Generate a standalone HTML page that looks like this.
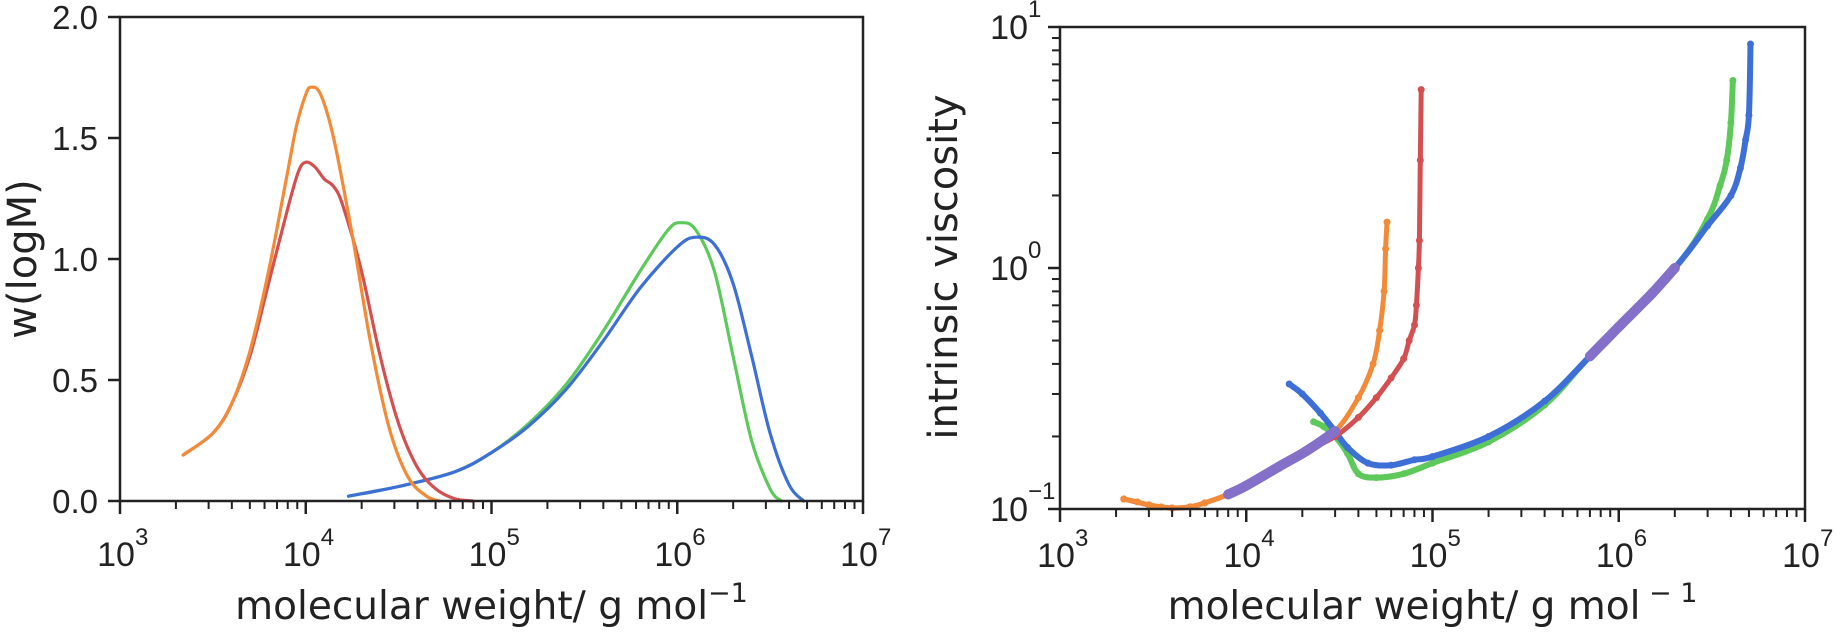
<!DOCTYPE html>
<html><head><meta charset="utf-8"><style>
html,body{margin:0;padding:0;background:#fff;}
svg{display:block;font-family:"DejaVu Sans","Liberation Sans",Arial,sans-serif;}
.tk{font-family:"Liberation Sans",Arial,sans-serif;}
</style></head><body>
<svg id="fig" width="1836" height="632" viewBox="0 0 1836 632" xmlns="http://www.w3.org/2000/svg">
<g id="left"></g>
<g id="right"></g>
</svg>
<script>
// ---- Left chart data (log10 M, w(logM)) ----
const orangeLogM = [3.34,3.5,3.6,3.7,3.8,3.9,3.95,4.0,4.03,4.08,4.15,4.25,4.35,4.45,4.55,4.65,4.72];
const orangeW    = [0.19,0.28,0.40,0.62,0.95,1.35,1.55,1.68,1.71,1.68,1.50,1.10,0.65,0.30,0.10,0.02,0.0];
const redLogM = [3.34,3.5,3.6,3.7,3.8,3.9,3.96,4.0,4.05,4.1,4.15,4.2,4.3,4.4,4.5,4.6,4.7,4.8,4.9];
const redW    = [0.19,0.28,0.40,0.60,0.90,1.20,1.36,1.40,1.38,1.33,1.30,1.22,0.95,0.60,0.32,0.14,0.05,0.01,0.0];
const greenLogM = [4.23,4.5,4.8,5.0,5.2,5.4,5.6,5.8,5.95,6.02,6.1,6.2,6.3,6.4,6.5,6.56];
const greenW    = [0.02,0.06,0.12,0.20,0.32,0.48,0.70,0.95,1.12,1.15,1.12,0.95,0.60,0.25,0.05,0.0];
const blueLogM = [4.23,4.5,4.8,5.0,5.2,5.4,5.6,5.8,6.0,6.1,6.2,6.3,6.4,6.5,6.6,6.68];
const blueW    = [0.02,0.06,0.12,0.20,0.31,0.46,0.66,0.88,1.05,1.09,1.06,0.90,0.60,0.28,0.07,0.0];
const leftYTicks = [0.0,0.5,1.0,1.5,2.0];
const leftYTickLabels = ["0.0","0.5","1.0","1.5","2.0"];
const xDecades = [3,4,5,6,7];

// ---- Right chart data (M, intrinsic viscosity) ----
const rOrangeM = [2200,2600,3000,3500,4000,5000,6000,8000,10000,15000,20000,30000,40000,48000,52000,55000,56000,57000];
const rOrangeV = [0.11,0.107,0.104,0.102,0.101,0.102,0.106,0.115,0.125,0.15,0.17,0.21,0.29,0.4,0.55,0.8,1.2,1.55];
const rRedM = [2200,3000,4000,5000,6000,8000,10000,20000,30000,40000,50000,60000,70000,75000,80000,82000,84000,85000,86000,87000];
const rRedV = [0.11,0.104,0.101,0.102,0.106,0.115,0.125,0.17,0.2,0.24,0.29,0.35,0.42,0.5,0.58,0.7,1.0,1.3,2.8,5.5];
const rPurpleM1 = [8000,10000,15000,20000,25000,30000];
const rPurpleV1 = [0.115,0.125,0.15,0.17,0.19,0.21];
const rPurpleM2 = [700000,1000000,1500000,2000000];
const rPurpleV2 = [0.43,0.57,0.78,1.0];
const rBlueM = [17000,20000,25000,30000,35000,45000,60000,80000,100000,200000,400000,700000,1000000,2000000,3000000,4000000,4500000,4800000,5000000,5100000];
const rBlueV = [0.33,0.3,0.25,0.21,0.18,0.155,0.152,0.16,0.165,0.2,0.28,0.43,0.57,1.0,1.5,2.0,2.6,3.4,4.3,8.5];
const rGreenM = [23000,26000,30000,35000,40000,50000,70000,100000,200000,400000,700000,2000000,3000000,3500000,3800000,4000000,4100000];
const rGreenV = [0.23,0.22,0.2,0.17,0.14,0.135,0.14,0.155,0.19,0.27,0.43,1.0,1.6,2.2,2.8,4.0,6.0];
const rightYDecades = [-1,0,1];

const NS = "http://www.w3.org/2000/svg";
function mk(tag, attrs, parent){ const e=document.createElementNS(NS,tag); for(const k in attrs) e.setAttribute(k,attrs[k]); parent.appendChild(e); return e; }
function smoothPath(P){
  let d = "M"+P[0][0].toFixed(1)+","+P[0][1].toFixed(1);
  for(let i=0;i<P.length-1;i++){
    const p0=P[Math.max(0,i-1)], p1=P[i], p2=P[i+1], p3=P[Math.min(P.length-1,i+2)];
    const c1=[p1[0]+(p2[0]-p0[0])/6, p1[1]+(p2[1]-p0[1])/6];
    const c2=[p2[0]-(p3[0]-p1[0])/6, p2[1]-(p3[1]-p1[1])/6];
    d += " C"+c1[0].toFixed(1)+","+c1[1].toFixed(1)+" "+c2[0].toFixed(1)+","+c2[1].toFixed(1)+" "+p2[0].toFixed(1)+","+p2[1].toFixed(1);
  }
  return d;
}

// ---- Left axes ----
const L = {x0:120,x1:863,y0:501,y1:17};
const lx = v => L.x0 + (v-3)/4*(L.x1-L.x0);
const ly = v => L.y0 - v/2*(L.y0-L.y1);
const lg = document.getElementById('left');
function lineSeries(g, xs, ys, fx, fy, color, name, w){
  const P = xs.map((x,i)=>[fx(x), fy(ys[i])]);
  const p = mk('path',{d:smoothPath(P),fill:'none',stroke:color,'stroke-width':w,'stroke-linejoin':'round','stroke-linecap':'round'},g);
  
  
  return p;
}
lineSeries(lg, greenLogM, greenW, lx, ly, '#5cc95a', 'green-curve', 3.2);
lineSeries(lg, blueLogM, blueW, lx, ly, '#3d6fd6', 'blue-curve', 3.2);
lineSeries(lg, redLogM, redW, lx, ly, '#d45050', 'red-curve', 3.2);
lineSeries(lg, orangeLogM, orangeW, lx, ly, '#f28a38', 'orange-curve', 3.2);
const lframe = mk('rect',{x:L.x0,y:L.y1,width:L.x1-L.x0,height:L.y0-L.y1,fill:'none',stroke:'#222','stroke-width':2.5},lg);


function xAxis(g, fx, y0, baseY, prefix){
  xDecades.forEach((d,i)=>{
    mk('line',{x1:fx(d),x2:fx(d),y1:y0,y2:y0+13,stroke:'#222','stroke-width':2.5},g);
    const t = mk('text',{x:fx(d)-4,y:baseY,'font-size':34,'text-anchor':'middle',fill:'#222',class:'tk'},g);
    t.textContent='10';
    
    
    const s = mk('text',{x:fx(d)+15,y:baseY-21,'font-size':24,fill:'#222',class:'tk'},g);
    s.textContent=String(d);
    if(i<xDecades.length-1){
      for(let m=2;m<=9;m++){ const xv=fx(d+Math.log10(m)); mk('line',{x1:xv,x2:xv,y1:y0,y2:y0+8,stroke:'#222','stroke-width':2},g); }
    }
  });
}
xAxis(lg, lx, L.y0, 566, 'left');
leftYTicks.forEach((v,i)=>{
  mk('line',{x1:L.x0-12,x2:L.x0,y1:ly(v),y2:ly(v),stroke:'#222','stroke-width':2.5},lg);
  const t = mk('text',{x:L.x0-22,y:ly(v)+12,'font-size':33,'text-anchor':'end',fill:'#222',class:'tk'},lg);
  t.textContent = leftYTickLabels[i];
  
  
});
const lxl = mk('text',{x:(L.x0+L.x1)/2,y:619,'font-size':39,'text-anchor':'middle',fill:'#222'},lg);
lxl.innerHTML = 'molecular weight/ g mol<tspan dy="-17" font-size="27">−1</tspan>';


const lyl = mk('text',{x:0,y:0,'font-size':40,'text-anchor':'middle',fill:'#222',transform:'translate(36,259) rotate(-90)'},lg);
lyl.textContent='w(logM)';



// ---- Right axes ----
const R = {x0:1060,x1:1805,y0:509,y1:27};
const rx = m => R.x0 + (Math.log10(m)-3)/4*(R.x1-R.x0);
const rxd = d => R.x0 + (d-3)/4*(R.x1-R.x0);
const ry = v => R.y0 - (Math.log10(v)+1)/2*(R.y0-R.y1);
const rg = document.getElementById('right');
function scatter(xs, ys, color, name, lw, r){
  const g = mk('g',{},rg);
  
  
  lineSeries(g, xs, ys, rx, ry, color, name+'-trace', lw);
  xs.forEach((x,i)=>{
    const c = mk('circle',{cx:rx(x).toFixed(1),cy:ry(ys[i]).toFixed(1),r:r,fill:color},g);
    
    
  });
}
scatter(rGreenM, rGreenV, '#5cc95a', 'green-series', 6, 3.5);
scatter(rBlueM, rBlueV, '#3d6fd6', 'blue-series', 6, 3.5);
scatter(rRedM, rRedV, '#d45050', 'red-series', 5, 3.5);
scatter(rOrangeM, rOrangeV, '#f28a38', 'orange-series', 5, 3.5);
scatter(rPurpleM1, rPurpleV1, '#8470c8', 'purple-series-low', 10, 5);
scatter(rPurpleM2, rPurpleV2, '#8470c8', 'purple-series-high', 10, 5);
const rframe = mk('rect',{x:R.x0,y:R.y1,width:R.x1-R.x0,height:R.y0-R.y1,fill:'none',stroke:'#222','stroke-width':2.5},rg);


xAxis(rg, rxd, R.y0, 567, 'right');
rightYDecades.forEach((d,i)=>{
  const yv = ry(Math.pow(10,d));
  mk('line',{x1:R.x0-12,x2:R.x0,y1:yv,y2:yv,stroke:'#222','stroke-width':2.5},rg);
  const t = mk('text',{x:R.x0-32,y:yv+12,'font-size':34,'text-anchor':'end',fill:'#222',class:'tk'},rg);
  t.textContent='10';
  
  
  const s = mk('text',{x:R.x0-32,y:yv-10,'font-size':24,fill:'#222',class:'tk'},rg);
  s.textContent = d<0 ? '−'+Math.abs(d) : String(d);
  if(i<rightYDecades.length-1){
    for(let m=2;m<=9;m++){ const y2=ry(Math.pow(10,d)*m); mk('line',{x1:R.x0-8,x2:R.x0,y1:y2,y2:y2,stroke:'#222','stroke-width':2},rg); }
  }
});
const rxl = mk('text',{x:(R.x0+R.x1)/2,y:619,'font-size':39,'text-anchor':'middle',fill:'#222'},rg);
rxl.innerHTML = 'molecular weight/ g mol<tspan dy="-17" font-size="27"> − 1</tspan>';


const ryl = mk('text',{x:0,y:0,'font-size':40,'text-anchor':'middle',fill:'#222',transform:'translate(957,267) rotate(-90)'},rg);
ryl.textContent='intrinsic viscosity';


</script>
</body></html>
